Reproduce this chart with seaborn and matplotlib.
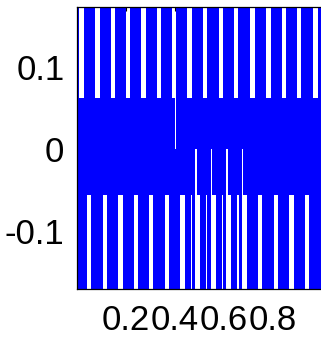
import numpy as np
import matplotlib
matplotlib.use("Agg")
import matplotlib.pyplot as plt
import seaborn as sns

# gap positions (x in data units)
top_gaps = [0.019, 0.083, 0.146, 0.209, 0.272, 0.335, 0.397, 0.460,
            0.522, 0.587, 0.650, 0.717, 0.781, 0.844, 0.907, 0.974]
bottom_gaps = [0.050, 0.114, 0.177, 0.240, 0.303, 0.367, 0.430, 0.493,
               0.557, 0.620, 0.684, 0.748, 0.812, 0.875, 0.939]
thin_bottom_gaps = [0.468, 0.529, 0.594, 0.658]
upper_cuts = [0.402]
lower_cuts = [0.486, 0.550, 0.612, 0.676]

gap_width = 0.018
thin_width = 0.006

band_top = 0.062      # upper edge of the dense band
band_bottom = -0.056  # lower edge of the dense band
spike_level = 0.25    # spikes go past the y limits

sns.set_theme(style="white")
plt.rcParams['font.family'] = ['Liberation Sans', 'DejaVu Sans']


def inside(x, centers, w):
    return any(abs(x - c) < w / 2 for c in centers)


# breakpoints for a step envelope
edges = {0.0, 1.0}
for c in top_gaps + bottom_gaps:
    edges.update([c - gap_width / 2, c + gap_width / 2])
for c in thin_bottom_gaps + upper_cuts + lower_cuts:
    edges.update([c - thin_width / 2, c + thin_width / 2])
xs = np.array(sorted(edges))

upper, lower = [], []
for a, b in zip(xs[:-1], xs[1:]):
    m = (a + b) / 2
    u, l = spike_level, -spike_level
    if inside(m, top_gaps, gap_width):
        u = band_top
    if inside(m, upper_cuts, thin_width):
        u = 0.0
    if inside(m, bottom_gaps, gap_width) or inside(m, thin_bottom_gaps, thin_width):
        l = band_bottom
    if inside(m, lower_cuts, thin_width):
        l = 0.0
    upper.append(u)
    lower.append(l)
upper.append(upper[-1])
lower.append(lower[-1])

fig = plt.figure(figsize=(3.21, 3.44), dpi=100)
ax = fig.add_axes([77 / 321, 1 - 289 / 344, 245 / 321, 282 / 344])

ax.fill_between(xs, lower, upper, step='post', color='#0000ff', linewidth=0)

ax.set_xlim(0, 1)
ax.set_ylim(-0.171, 0.173)
ax.set_xticks([0.2, 0.4, 0.6, 0.8])
ax.set_xticklabels(['0.2', '0.4', '0.6', '0.8'])
ax.set_yticks([-0.1, 0, 0.1])
ax.set_yticklabels(['-0.1', '0', '0.1'])
ax.tick_params(direction='in', length=3, width=0.8, top=True, right=True,
               labelsize=25, colors='black')
ax.tick_params(axis='x', pad=11)
ax.tick_params(axis='y', pad=9)
for s in ax.spines.values():
    s.set_color('black')
    s.set_linewidth(0.9)

fig.savefig('out.png', dpi=100)
